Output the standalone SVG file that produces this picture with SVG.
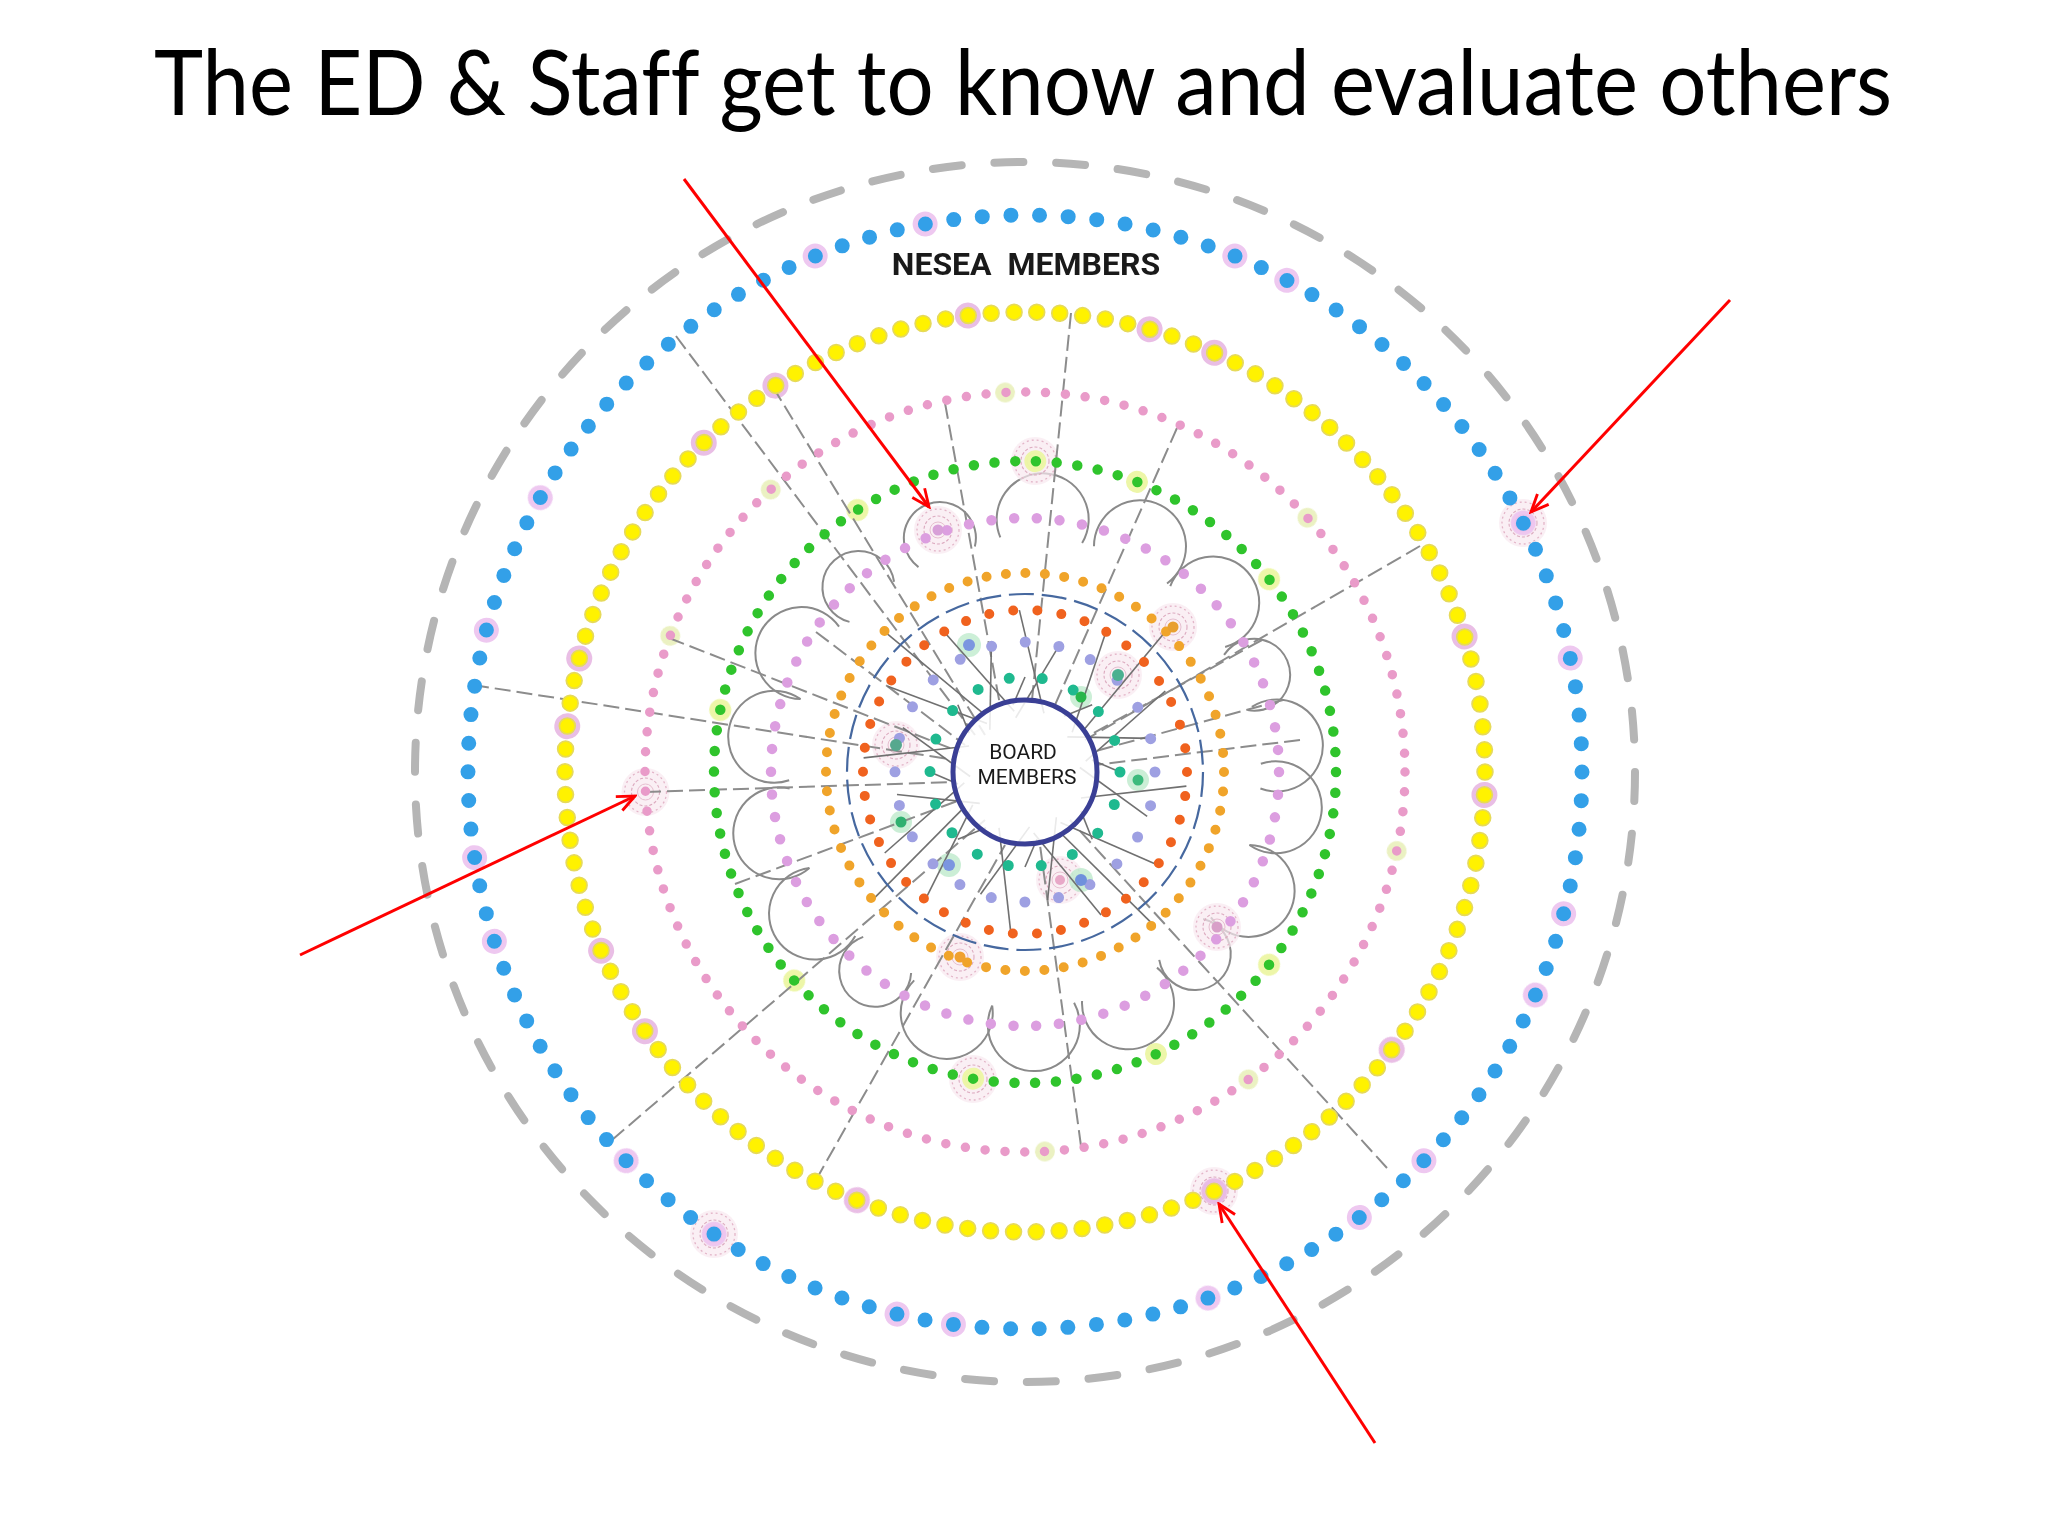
<svg xmlns="http://www.w3.org/2000/svg" width="2048" height="1536" viewBox="0 0 2048 1536">
<style>
.ring{fill:none;stroke-linecap:round}
.outer{fill:none;stroke:#b5b5b5;stroke-width:8;stroke-linecap:round;stroke-dasharray:29 32.818}
.blue{stroke:#33a0e8;stroke-width:15;stroke-dasharray:0 28.686}
.yel-o{stroke:#e6da5a;stroke-width:17.5;stroke-dasharray:0 22.939}
.yel{stroke:#fff200;stroke-width:14;stroke-dasharray:0 22.939}
.pink{stroke:#e99bc9;stroke-width:9.5;stroke-dasharray:0 19.897}
.green{stroke:#2fc42c;stroke-width:10.5;stroke-dasharray:0 20.788}
.violet{stroke:#dc9ee0;stroke-width:10.5;stroke-dasharray:0 22.799}
.orange{stroke:#f0a42a;stroke-width:10;stroke-dasharray:0 19.537}
.red{stroke:#f0621e;stroke-width:10;stroke-dasharray:0 24.235}
.lav{stroke:#9ea0e2;stroke-width:11;stroke-dasharray:0 34.034}
.teal{stroke:#1fb98f;stroke-width:11;stroke-dasharray:0 33.161}
.bdash{fill:none;stroke:#46689f;stroke-width:2.2;stroke-dasharray:25 7.894}
.board{fill:#ffffff;fill-opacity:0.85;stroke:#3a3f95;stroke-width:5}
.rad{fill:none;stroke:#8c8c8c;stroke-width:2;stroke-dasharray:16 6}
.spoke{fill:none;stroke:#707070;stroke-width:1.6}
.loop{fill:none;stroke:#8a8a8a;stroke-width:2}
.hb{fill:#ebbfee;opacity:0.85}
.hy{fill:#e6b3e1;opacity:0.85}
.hp{fill:#e9f0bb;opacity:0.9}
.hg{fill:#ecf6a4;opacity:0.95}
.hi{fill:#c3ecd0;opacity:0.85}
.arrow{fill:none;stroke:#ff0000;stroke-width:3;marker-end:url(#ah)}
.title{font-family:Lato,'Open Sans','Liberation Sans',sans-serif;font-size:92px;fill:#000;font-variant-ligatures:none}
.lbl{font-family:Roboto,'DejaVu Sans','Liberation Sans',sans-serif;fill:#1a1a1a}
</style>
<defs>
<marker id="ah" viewBox="0 0 20 20" refX="18" refY="10" markerWidth="22" markerHeight="22" markerUnits="userSpaceOnUse" orient="auto">
<path d="M2,3 L18,10 L2,17" fill="none" stroke="#ff0000" stroke-width="2.6" stroke-linejoin="miter"/>
</marker>
<g id="sp">
<circle r="24" fill="#f8e8ef" opacity="0.7"/>
<circle r="21" fill="none" stroke="#e3b5c8" stroke-width="1.3" stroke-dasharray="2 3"/>
<circle r="14" fill="none" stroke="#dcaabf" stroke-width="1.1" stroke-dasharray="3 2"/>
<circle r="8" fill="none" stroke="#e6bfd0" stroke-width="1"/>
</g>
<path id="lp" d="M1257.4,731 A46,46 0 1 1 1257.4,813"/>
<path id="lp2" d="M1254,742 A36,36 0 1 1 1254,802"/>
<path id="sa" d="M1187,772 L1083,793"/>
<path id="sb" d="M1155,772 L1075,749"/>
<path id="sc" d="M1224,772 L1094,784"/>
<path id="sd" d="M1120,772 L1092,760"/>
</defs>
<rect width="2048" height="1536" fill="#ffffff"/>

<text class="title" transform="translate(1023 115) scale(0.905 1)" x="0" y="0" text-anchor="middle">The ED &amp; Staff get to know and evaluate others</text>

<g id="diagram">
<circle id="outer-ring" class="outer" cx="1025" cy="772" r="610"/>

<g id="loops">
<use href="#lp" class="loop" transform="rotate(8 1025 772)"/>
<use href="#lp" class="loop" transform="rotate(28 1025 772)"/>
<use href="#lp2" class="loop" transform="rotate(47 1025 772)"/>
<use href="#lp" class="loop" transform="rotate(66 1025 772)"/>
<use href="#lp" class="loop" transform="rotate(88 1025 772)"/>
<use href="#lp" class="loop" transform="rotate(108 1025 772)"/>
<use href="#lp2" class="loop" transform="rotate(127 1025 772)"/>
<use href="#lp" class="loop" transform="rotate(146 1025 772)"/>
<use href="#lp" class="loop" transform="rotate(166 1025 772)"/>
<use href="#lp" class="loop" transform="rotate(188 1025 772)"/>
<use href="#lp" class="loop" transform="rotate(208 1025 772)"/>
<use href="#lp2" class="loop" transform="rotate(228 1025 772)"/>
<use href="#lp2" class="loop" transform="rotate(250 1025 772)"/>
<use href="#lp" class="loop" transform="rotate(274 1025 772)"/>
<use href="#lp" class="loop" transform="rotate(297 1025 772)"/>
<use href="#lp" class="loop" transform="rotate(318 1025 772)"/>
<use href="#lp2" class="loop" transform="rotate(337 1025 772)"/>
<use href="#lp" class="loop" transform="rotate(354 1025 772)"/>
</g>

<g id="sparkles">
<use href="#sp" transform="translate(938 530)"/>
<use href="#sp" transform="translate(1523 523)"/>
<use href="#sp" transform="translate(645.5 792)"/>
<use href="#sp" transform="translate(1214 1191)"/>
<use href="#sp" transform="translate(714 1234)"/>
<use href="#sp" transform="translate(1035 461)"/>
<use href="#sp" transform="translate(973 1079)"/>
<use href="#sp" transform="translate(1173 627)"/>
<use href="#sp" transform="translate(1118 675)"/>
<use href="#sp" transform="translate(896 745)"/>
<use href="#sp" transform="translate(1217 927)"/>
<use href="#sp" transform="translate(960 957)"/>
<use href="#sp" transform="translate(1060 880)"/>
</g>

<g id="halos">
<g class="hb">
<circle cx="1582" cy="772" r="12.5" transform="rotate(259.67 1025 772)"/>
<circle cx="1582" cy="772" r="12.5" transform="rotate(247.87 1025 772)"/>
<circle cx="1582" cy="772" r="12.5" transform="rotate(209.51 1025 772)"/>
<circle cx="1582" cy="772" r="12.5" transform="rotate(194.75 1025 772)"/>
<circle cx="1582" cy="772" r="12.5" transform="rotate(292.13 1025 772)"/>
<circle cx="1582" cy="772" r="12.5" transform="rotate(298.03 1025 772)"/>
<circle cx="1582" cy="772" r="12.5" transform="rotate(348.2 1025 772)"/>
<circle cx="1582" cy="772" r="12.5" transform="rotate(333.44 1025 772)"/>
<circle cx="1582" cy="772" r="12.5" transform="rotate(171.15 1025 772)"/>
<circle cx="1582" cy="772" r="12.5" transform="rotate(162.3 1025 772)"/>
<circle cx="1582" cy="772" r="12.5" transform="rotate(135.74 1025 772)"/>
<circle cx="1582" cy="772" r="12.5" transform="rotate(123.93 1025 772)"/>
<circle cx="1582" cy="772" r="12.5" transform="rotate(103.28 1025 772)"/>
<circle cx="1582" cy="772" r="12.5" transform="rotate(97.38 1025 772)"/>
<circle cx="1582" cy="772" r="12.5" transform="rotate(14.75 1025 772)"/>
<circle cx="1582" cy="772" r="12.5" transform="rotate(23.61 1025 772)"/>
<circle cx="1582" cy="772" r="12.5" transform="rotate(44.26 1025 772)"/>
<circle cx="1582" cy="772" r="12.5" transform="rotate(53.11 1025 772)"/>
<circle cx="1582" cy="772" r="12.5" transform="rotate(70.82 1025 772)"/>
</g>
<g class="hy">
<circle cx="1485" cy="772" r="13" transform="rotate(225.71 1025 772)"/>
<circle cx="1485" cy="772" r="13" transform="rotate(237.14 1025 772)"/>
<circle cx="1485" cy="772" r="13" transform="rotate(262.86 1025 772)"/>
<circle cx="1485" cy="772" r="13" transform="rotate(194.29 1025 772)"/>
<circle cx="1485" cy="772" r="13" transform="rotate(185.71 1025 772)"/>
<circle cx="1485" cy="772" r="13" transform="rotate(285.71 1025 772)"/>
<circle cx="1485" cy="772" r="13" transform="rotate(294.29 1025 772)"/>
<circle cx="1485" cy="772" r="13" transform="rotate(342.86 1025 772)"/>
<circle cx="1485" cy="772" r="13" transform="rotate(157.14 1025 772)"/>
<circle cx="1485" cy="772" r="13" transform="rotate(145.71 1025 772)"/>
<circle cx="1485" cy="772" r="13" transform="rotate(111.43 1025 772)"/>
<circle cx="1485" cy="772" r="13" transform="rotate(2.857 1025 772)"/>
<circle cx="1485" cy="772" r="13" transform="rotate(37.14 1025 772)"/>
<circle cx="1485" cy="772" r="13" transform="rotate(65.71 1025 772)"/>
</g>
<g class="hp">
<circle cx="1405" cy="772" r="10" transform="rotate(267 1025 772)"/>
<circle cx="1405" cy="772" r="10" transform="rotate(228 1025 772)"/>
<circle cx="1405" cy="772" r="10" transform="rotate(318 1025 772)"/>
<circle cx="1405" cy="772" r="10" transform="rotate(12 1025 772)"/>
<circle cx="1405" cy="772" r="10" transform="rotate(54 1025 772)"/>
<circle cx="1405" cy="772" r="10" transform="rotate(87 1025 772)"/>
<circle cx="1405" cy="772" r="10" transform="rotate(201 1025 772)"/>
</g>
<g class="hg">
<circle cx="1336" cy="772" r="11" transform="rotate(271.9 1025 772)"/>
<circle cx="1336" cy="772" r="11" transform="rotate(321.7 1025 772)"/>
<circle cx="1336" cy="772" r="11" transform="rotate(237.4 1025 772)"/>
<circle cx="1336" cy="772" r="11" transform="rotate(291.1 1025 772)"/>
<circle cx="1336" cy="772" r="11" transform="rotate(38.3 1025 772)"/>
<circle cx="1336" cy="772" r="11" transform="rotate(65.1 1025 772)"/>
<circle cx="1336" cy="772" r="11" transform="rotate(137.9 1025 772)"/>
<circle cx="1336" cy="772" r="11" transform="rotate(99.6 1025 772)"/>
<circle cx="1336" cy="772" r="11" transform="rotate(191.5 1025 772)"/>
</g>
<g class="hi">
<circle cx="969" cy="645" r="12"/>
<circle cx="949" cy="865" r="12"/>
<circle cx="1081" cy="880" r="12"/>
<circle cx="1081" cy="697" r="11"/>
<circle cx="1138" cy="780" r="11"/>
<circle cx="901" cy="822" r="11"/>
</g>
</g>

<g id="connectors">
<g id="radial-lines">
<path class="rad" d="M676,336 L975,735"/>
<path class="rad" d="M773,387 L985,735"/>
<path class="rad" d="M945,403 L1000,705"/>
<path class="rad" d="M669,638 L960,752"/>
<path class="rad" d="M473,685 L955,760"/>
<path class="rad" d="M1071,313 L1032,700"/>
<path class="rad" d="M1177,428 L1055,705"/>
<path class="rad" d="M1420,546 L1085,740"/>
<path class="rad" d="M612,1140 L985,820"/>
<path class="rad" d="M816,1180 L1005,845"/>
<path class="rad" d="M645,792 L955,782"/>
<path class="rad" d="M735,884 L960,800"/>
<path class="rad" d="M1387,1168 L1070,820"/>
<path class="rad" d="M1081,1146 L1040,845"/>
<path class="rad" d="M1300,740 L1095,765"/>
<path class="rad" d="M1283,700 L1092,752"/>
<path class="rad" d="M816,632 L965,745"/>
<path class="rad" d="M1262,640 L1090,735"/>
</g>
<g id="spokes">
<use href="#sa" class="spoke" transform="rotate(5 1025 772)"/>
<use href="#sa" class="spoke" transform="rotate(35 1025 772)"/>
<use href="#sa" class="spoke" transform="rotate(62 1025 772)"/>
<use href="#sa" class="spoke" transform="rotate(95 1025 772)"/>
<use href="#sa" class="spoke" transform="rotate(128 1025 772)"/>
<use href="#sa" class="spoke" transform="rotate(150 1025 772)"/>
<use href="#sa" class="spoke" transform="rotate(185 1025 772)"/>
<use href="#sa" class="spoke" transform="rotate(212 1025 772)"/>
<use href="#sa" class="spoke" transform="rotate(240 1025 772)"/>
<use href="#sa" class="spoke" transform="rotate(268 1025 772)"/>
<use href="#sa" class="spoke" transform="rotate(300 1025 772)"/>
<use href="#sa" class="spoke" transform="rotate(330 1025 772)"/>
<use href="#sb" class="spoke" transform="rotate(20 1025 772)"/>
<use href="#sb" class="spoke" transform="rotate(80 1025 772)"/>
<use href="#sb" class="spoke" transform="rotate(110 1025 772)"/>
<use href="#sb" class="spoke" transform="rotate(170 1025 772)"/>
<use href="#sb" class="spoke" transform="rotate(200 1025 772)"/>
<use href="#sb" class="spoke" transform="rotate(255 1025 772)"/>
<use href="#sb" class="spoke" transform="rotate(285 1025 772)"/>
<use href="#sb" class="spoke" transform="rotate(345 1025 772)"/>
<use href="#sc" class="spoke" transform="rotate(50 1025 772)"/>
<use href="#sc" class="spoke" transform="rotate(140 1025 772)"/>
<use href="#sc" class="spoke" transform="rotate(225 1025 772)"/>
<use href="#sc" class="spoke" transform="rotate(315 1025 772)"/>
<use href="#sd" class="spoke" transform="rotate(0 1025 772)"/>
<use href="#sd" class="spoke" transform="rotate(45 1025 772)"/>
<use href="#sd" class="spoke" transform="rotate(90 1025 772)"/>
<use href="#sd" class="spoke" transform="rotate(135 1025 772)"/>
<use href="#sd" class="spoke" transform="rotate(180 1025 772)"/>
<use href="#sd" class="spoke" transform="rotate(225 1025 772)"/>
<use href="#sd" class="spoke" transform="rotate(270 1025 772)"/>
<use href="#sd" class="spoke" transform="rotate(315 1025 772)"/>
</g>
</g>

<g id="rings">
<circle id="nesea-ring" class="ring blue" cx="1025" cy="772" r="557"/>
<circle class="ring yel-o" cx="1025" cy="772" r="460"/>
<circle id="yellow-ring" class="ring yel" cx="1025" cy="772" r="460"/>
<circle id="pink-ring" class="ring pink" cx="1025" cy="772" r="380"/>
<circle id="green-ring" class="ring green" cx="1025" cy="772" r="311"/>
<circle id="violet-ring" class="ring violet" cx="1025" cy="772" r="254"/>
<circle id="orange-ring" class="ring orange" cx="1025" cy="772" r="199"/>
<circle id="dashed-ring" class="bdash" cx="1025" cy="772" r="178"/>
<circle id="red-ring" class="ring red" cx="1025" cy="772" r="162"/>
<circle id="lavender-ring" class="ring lav" cx="1025" cy="772" r="130"/>
<circle id="teal-ring" class="ring teal" cx="1025" cy="772" r="95"/>
</g>

<g id="extra-nodes">
<circle cx="969" cy="645" r="6" fill="#7b96e0"/>
<circle cx="949" cy="865" r="6" fill="#7b96e0"/>
<circle cx="1081" cy="880" r="6" fill="#6f90dc"/>
<circle cx="1081" cy="697" r="5.5" fill="#28b64a"/>
<circle cx="1138" cy="780" r="5.5" fill="#3cba7c"/>
<circle cx="901" cy="822" r="5.5" fill="#30b070"/>
<circle cx="1173" cy="627" r="5.5" fill="#e8a030"/>
<circle cx="1118" cy="675" r="6" fill="#4bb090"/>
<circle cx="896" cy="745" r="6" fill="#56a88e"/>
<circle cx="1217" cy="927" r="5.5" fill="#d8a0c8"/>
<circle cx="960" cy="957" r="5.5" fill="#f0a030"/>
<circle cx="1060" cy="880" r="5" fill="#e8a8c8"/>
<circle cx="938" cy="530" r="5.5" fill="#d8a0d8"/>
</g>

<g id="board">
<circle class="board" cx="1025" cy="772" r="72"/>
<text class="lbl" font-size="21" text-anchor="middle"><tspan x="1023" y="759">BOARD</tspan><tspan x="1027" y="784">MEMBERS</tspan></text>
</g>

<g id="nesea-label">
<text class="lbl" x="1026" y="275" font-size="32" font-weight="700" text-anchor="middle" word-spacing="8" fill="#111">NESEA MEMBERS</text>
</g>
</g>

<g id="arrows">
<path class="arrow" d="M684,179 L929,507"/>
<path class="arrow" d="M1730,300 L1531,512"/>
<path class="arrow" d="M300,955 L635,796"/>
<path class="arrow" d="M1375,1443 L1219,1204"/>
</g>
</svg>
